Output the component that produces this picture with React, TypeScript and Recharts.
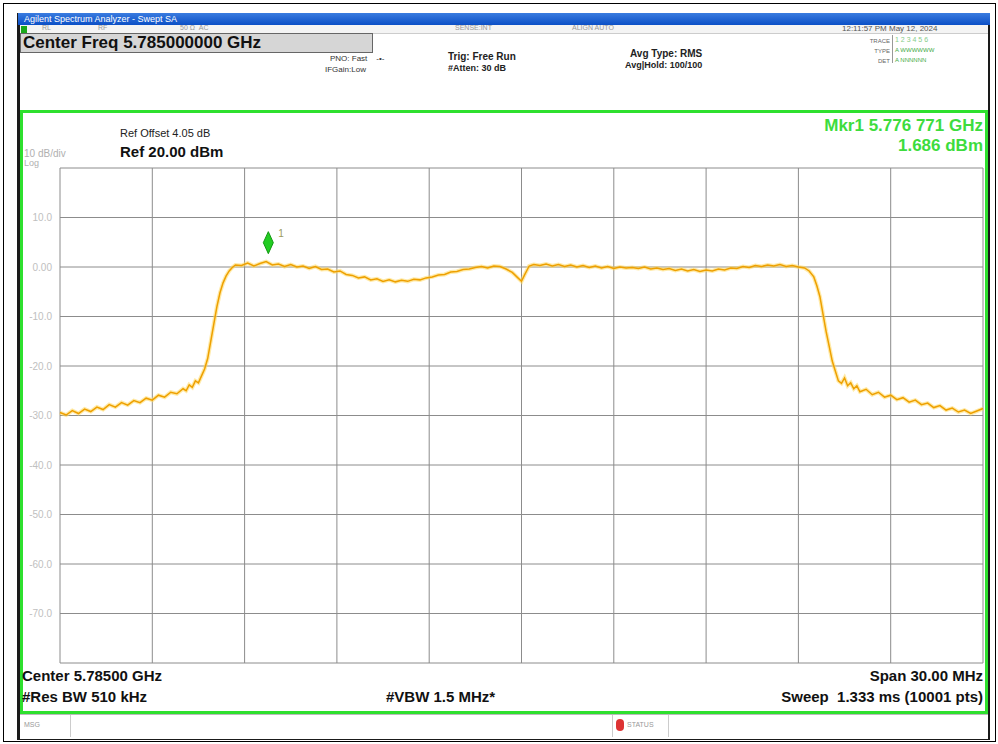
import { LineChart, Line, XAxis, YAxis, CartesianGrid, ReferenceDot } from 'recharts';

// frequency offsets from the 5785 MHz centre (MHz) and the trace level (dBm)
const offsets = [
  -15.0, -14.8, -14.6, -14.4, -14.2, -14.0, -13.8, -13.6, -13.4, -13.2,
  -13.0, -12.8, -12.6, -12.4, -12.2, -12.0, -11.8, -11.6, -11.4, -11.2,
  -11.0, -10.9, -10.8, -10.7, -10.6, -10.5, -10.4, -10.3, -10.2, -10.1,
  -10.0, -9.9, -9.8, -9.7, -9.6, -9.5, -9.4, -9.3, -9.1, -8.9,
  -8.7, -8.5, -8.3, -8.1, -7.9, -7.7, -7.5, -7.3, -7.1, -6.9,
  -6.7, -6.5, -6.3, -6.1, -5.9, -5.7, -5.5, -5.3, -5.1, -4.9,
  -4.7, -4.5, -4.3, -4.1, -3.9, -3.7, -3.5, -3.3, -3.1, -2.9,
  -2.7, -2.5, -2.3, -2.1, -1.9, -1.7, -1.5, -1.3, -1.1, -0.9,
  -0.7, -0.5, -0.3, -0.15, 0.0, 0.1, 0.25, 0.4, 0.6, 0.8,
  1.0, 1.2, 1.4, 1.6, 1.8, 2.0, 2.2, 2.4, 2.6, 2.8,
  3.0, 3.2, 3.4, 3.6, 3.8, 4.0, 4.2, 4.4, 4.6, 4.8,
  5.0, 5.2, 5.4, 5.6, 5.8, 6.0, 6.2, 6.4, 6.6, 6.8,
  7.0, 7.2, 7.4, 7.6, 7.8, 8.0, 8.2, 8.4, 8.6, 8.8,
  9.0, 9.2, 9.35, 9.5, 9.6, 9.7, 9.8, 9.9, 10.0, 10.1,
  10.2, 10.3, 10.4, 10.5, 10.6, 10.7, 10.8, 10.9, 11.0, 11.2,
  11.4, 11.6, 11.8, 12.0, 12.2, 12.4, 12.6, 12.8, 13.0, 13.2,
  13.4, 13.6, 13.8, 14.0, 14.2, 14.4, 14.6, 14.8, 15.0,
];

const levels = [
  -29.4, -29.9, -29.0, -29.6, -28.7, -29.2, -28.3, -28.8, -27.8, -28.3,
  -27.4, -27.9, -27.0, -27.4, -26.5, -26.9, -25.9, -26.3, -25.3, -25.6,
  -24.6, -25.0, -23.8, -24.3, -23.0, -23.4, -22.0, -20.6, -18.5, -15.0,
  -11.5, -8.0, -5.2, -3.2, -1.8, -0.8, -0.1, 0.4, 0.3, 0.8,
  0.2, 0.7, 1.1, 0.4, 0.6, 0.1, 0.5, 0.0, 0.2, -0.3,
  0.1, -0.5, -0.4, -1.0, -0.8, -1.5, -1.7, -2.2, -2.0, -2.6,
  -2.4, -2.9, -2.6, -3.0, -2.7, -2.9, -2.5, -2.6, -2.2, -2.0,
  -1.6, -1.5, -1.0, -0.9, -0.5, -0.4, -0.1, 0.1, -0.2, 0.2,
  0.1, -0.4, -1.1, -2.0, -2.9, -1.6, 0.2, 0.5, 0.3, 0.6,
  0.2, 0.5, 0.1, 0.4, 0.0, 0.3, -0.1, 0.2, -0.2, 0.1,
  -0.3, 0.0, -0.2, -0.1, -0.3, 0.0, -0.4, -0.2, -0.5, -0.3,
  -0.7, -0.4, -0.8, -0.5, -0.9, -0.6, -0.8, -0.4, -0.6, -0.2,
  -0.3, 0.1, -0.1, 0.3, 0.1, 0.4, 0.2, 0.5, 0.1, 0.3,
  0.0, -0.2, -0.8, -2.0, -3.8, -6.0, -9.5, -13.0, -16.0, -19.0,
  -21.0, -23.0, -23.5, -22.4, -24.0, -23.4, -24.6, -24.0, -25.2, -24.7,
  -25.8, -25.3, -26.3, -25.9, -26.8, -26.4, -27.3, -26.9, -27.8, -27.5,
  -28.4, -28.0, -28.9, -28.5, -29.3, -28.9, -29.6, -29.1, -28.6,
];

const centerMHz = 5785;
const freqTicks = [5770, 5773, 5776, 5779, 5782, 5785, 5788, 5791, 5794, 5797, 5800];
const levelTicks = [20, 10, 0, -10, -20, -30, -40, -50, -60, -70, -80];

const markerFreq = 5776.771;
const markerLevel = 1.686;

const traceData = offsets.map((o, i) => ({ freq: centerMHz + o, level: levels[i] }));

function fmtLevel(v: number) {
  if (v === 20 || v === -80) return '';
  if (v === 0) return '0.00';
  return v.toFixed(1);
}

const font = '"Liberation Sans", Arial, sans-serif';

function MarkerShape(props: any) {
  const { cx, cy } = props;
  const my = cy - 16;
  return (
    <g>
      <path
        d={`M${cx},${my - 11} L${cx + 5},${my} L${cx},${my + 11} L${cx - 5},${my} Z`}
        fill="#22cc22"
        stroke="#119911"
        strokeWidth={1}
      />
      <text x={cx + 10} y={my - 6} fontSize={10} fill="#9a9a60" fontFamily={font}>1</text>
    </g>
  );
}

function abs(left: number, top: number, extra: any = {}): any {
  return { position: 'absolute', left, top, whiteSpace: 'nowrap', ...extra };
}

export default function App() {
  return (
    <div style={{ position: 'absolute', left: 0, top: 0, width: 998, height: 744, background: '#fff', fontFamily: font, overflow: 'hidden' }}>
      {/* page frame */}
      <div style={abs(3, 3, { width: 991, height: 737, border: '1px solid #000' })} />

      {/* analyzer window */}
      <div style={abs(17, 13, { width: 973, height: 727, background: '#1a1a1a' })} />
      <div style={abs(18, 13, { width: 972, height: 12, background: 'linear-gradient(#3a7ce0, #0b4fc6)' })} />
      <div style={abs(24, 13, { color: '#fff', fontSize: 9, lineHeight: '12px' })}>Agilent Spectrum Analyzer - Swept SA</div>

      <div style={abs(20, 25, { width: 968, height: 688, background: '#fff' })} />
      {/* status row */}
      <div style={abs(20, 25, { width: 968, height: 8, background: '#f4f4f4', borderBottom: '1px solid #ccc' })} />
      <div style={abs(21, 26, { width: 6, height: 7, background: '#1aa81a' })} />
      <div style={abs(42, 24, { fontSize: 7, color: '#999' })}>RL</div>
      <div style={abs(98, 24, { fontSize: 7, color: '#999' })}>RF</div>
      <div style={abs(180, 24, { fontSize: 7, color: '#999' })}>50 Ω&nbsp;&nbsp;AC</div>
      <div style={abs(455, 24, { fontSize: 7, color: '#999' })}>SENSE:INT</div>
      <div style={abs(572, 24, { fontSize: 7, color: '#999' })}>ALIGN AUTO</div>
      <div style={abs(842, 24, { fontSize: 8, color: '#555' })}>12:11:57 PM May 12, 2024</div>

      {/* center freq box */}
      <div style={abs(20, 33, { width: 351, height: 18, background: '#d6d6d6', border: '1px solid #666' })} />
      <div style={abs(23, 32, { fontSize: 17, fontWeight: 'bold', color: '#111', lineHeight: '21px' })}>Center Freq 5.785000000 GHz</div>

      <div style={abs(330, 54, { fontSize: 8, color: '#333' })}>PNO: Fast&nbsp;&nbsp;&nbsp;&nbsp;-•-</div>
      <div style={abs(325, 65, { fontSize: 8, color: '#333' })}>IFGain:Low</div>
      <div style={abs(448, 51, { fontSize: 10, fontWeight: 'bold', color: '#222' })}>Trig: Free Run</div>
      <div style={abs(448, 63, { fontSize: 9, fontWeight: 'bold', color: '#222' })}>#Atten: 30 dB</div>
      <div style={abs(630, 48, { fontSize: 10, fontWeight: 'bold', color: '#222' })}>Avg Type: RMS</div>
      <div style={abs(625, 60, { fontSize: 9, fontWeight: 'bold', color: '#222' })}>Avg|Hold: 100/100</div>

      <div style={abs(866, 36, { fontSize: 6, color: '#666', textAlign: 'right', lineHeight: '10px', width: 24 })}>TRACE<br />TYPE<br />DET</div>
      <div style={abs(892, 35, { width: 1, height: 28, background: '#999' })} />
      <div style={abs(895, 35, { fontSize: 7, color: '#8c8', lineHeight: '10px' })}>1 2 3 4 5 6</div>
      <div style={abs(895, 45, { fontSize: 6, color: '#4a4', lineHeight: '10px' })}>A WWWWWW</div>
      <div style={abs(895, 55, { fontSize: 6, color: '#4a4', lineHeight: '10px' })}>A NNNNNN</div>

      {/* green measurement frame */}
      <div style={abs(20, 110, { width: 962, height: 598, border: '3px solid #2ee02e' })} />

      <div style={abs(120, 127, { fontSize: 11, color: '#222' })}>Ref Offset 4.05 dB</div>
      <div style={abs(120, 143, { fontSize: 15, fontWeight: 'bold', color: '#111' })}>Ref 20.00 dBm</div>
      <div style={abs(24, 148, { fontSize: 10, color: '#b0b0b0' })}>10 dB/div</div>
      <div style={abs(24, 158, { fontSize: 9, color: '#b0b0b0' })}>Log</div>

      <div style={abs(700, 116, { width: 283, textAlign: 'right', fontSize: 17, fontWeight: 'bold', color: '#3ddc3d' })}>Mkr1 5.776 771 GHz</div>
      <div style={abs(700, 136, { width: 283, textAlign: 'right', fontSize: 17, fontWeight: 'bold', color: '#3ddc3d' })}>1.686 dBm</div>

      <div style={abs(0, 160)}>
        <LineChart
          width={990}
          height={510}
          data={traceData}
          margin={{ top: 8, right: 7, bottom: 7, left: 0 }}
        >
          <CartesianGrid stroke="#8c8c8c" strokeWidth={1} />
          <XAxis dataKey="freq" type="number" domain={[5770, 5800]} ticks={freqTicks} hide />
          <YAxis
            type="number"
            domain={[-80, 20]}
            ticks={levelTicks}
            interval={0}
            width={60}
            axisLine={false}
            tickLine={false}
            tickFormatter={fmtLevel}
            tick={{ fontSize: 10, fill: '#c0c0c0', fontFamily: font }}
          />
          <Line
            dataKey="level"
            type="linear"
            stroke="#ffd860"
            strokeWidth={4}
            strokeOpacity={0.55}
            dot={false}
            isAnimationActive={false}
          />
          <Line
            dataKey="level"
            type="linear"
            stroke="#eea000"
            strokeWidth={1.5}
            dot={false}
            isAnimationActive={false}
          />
          <ReferenceDot x={markerFreq} y={markerLevel} shape={MarkerShape} />
        </LineChart>
      </div>

      <div style={abs(22, 667, { fontSize: 15, fontWeight: 'bold', color: '#111' })}>Center 5.78500 GHz</div>
      <div style={abs(22, 688, { fontSize: 15, fontWeight: 'bold', color: '#111' })}>#Res BW 510 kHz</div>
      <div style={abs(386, 688, { fontSize: 15, fontWeight: 'bold', color: '#111' })}>#VBW 1.5 MHz*</div>
      <div style={abs(600, 667, { width: 383, textAlign: 'right', fontSize: 15, fontWeight: 'bold', color: '#111' })}>Span 30.00 MHz</div>
      <div style={abs(600, 688, { width: 383, textAlign: 'right', fontSize: 15, fontWeight: 'bold', color: '#111' })}>Sweep&nbsp;&nbsp;1.333 ms (10001 pts)</div>

      {/* message bar */}
      <div style={abs(20, 714, { width: 968, height: 24, background: '#fff', borderTop: '1px solid #bbb' })} />
      <div style={abs(70, 715, { width: 1, height: 22, background: '#ccc' })} />
      <div style={abs(24, 721, { fontSize: 7, color: '#999' })}>MSG</div>
      <div style={abs(612, 715, { width: 1, height: 22, background: '#ccc' })} />
      <div style={abs(616, 719, { width: 8, height: 12, borderRadius: 4, background: '#d33' })} />
      <div style={abs(627, 721, { fontSize: 7, color: '#999' })}>STATUS</div>
      <div style={abs(668, 715, { width: 1, height: 22, background: '#ccc' })} />
    </div>
  );
}
